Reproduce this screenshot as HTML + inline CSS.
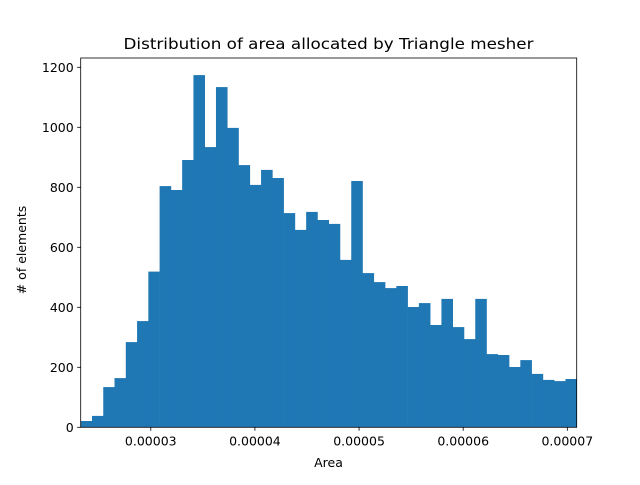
<!DOCTYPE html>
<html><head><meta charset="utf-8"><style>
body{margin:0;background:#fff;}
svg text{font-family:"DejaVu Sans","Liberation Sans",sans-serif;fill:#000;}
</style></head><body>
<svg id="chart" width="640" height="480" xmlns="http://www.w3.org/2000/svg">
<rect width="640" height="480" fill="#fff"/>
<text x="328.5" y="49" font-size="15.5" text-anchor="middle" textLength="410" lengthAdjust="spacingAndGlyphs">Distribution of area allocated by Triangle mesher</text>
<g id="bars"></g>
<g id="axes"></g>
<text x="328.5" y="467" font-size="12.5" text-anchor="middle">Area</text>
<text transform="translate(26,250) rotate(-90)" font-size="12.5" text-anchor="middle">#  of elements</text>
</svg>
<script>
const counts=[21,38,134,164,284,354,519,804,791,891,1174,934,1134,998,874,808,858,831,714,658,718,691,678,558,821,514,484,464,471,401,414,341,428,334,294,428,244,241,201,224,178,158,154,161];
const xTicks=[0.00003,0.00004,0.00005,0.00006,0.00007];
const xTickLabels=["0.00003","0.00004","0.00005","0.00006","0.00007"];
const yTicks=[0,200,400,600,800,1000,1200];
const binStart=0.00002327, binEnd=0.0000709;
const xMin=binStart,xMax=binEnd,yMax=1231;
const L=80.7,R=576.7,T=58,B=427.3;
const NS="http://www.w3.org/2000/svg";
const sx=v=>L+(v-xMin)/(xMax-xMin)*(R-L);
const sy=v=>B-v/yMax*(B-T);
const bars=document.getElementById('bars');
const bw=(binEnd-binStart)/counts.length;
counts.forEach((c,i)=>{
  const r=document.createElementNS(NS,'rect');
  const x0=sx(binStart+i*bw),x1=sx(binStart+(i+1)*bw);
  r.setAttribute('x',x0);r.setAttribute('width',x1-x0+0.3);
  r.setAttribute('y',sy(c));r.setAttribute('height',B-sy(c));
  r.setAttribute('fill','#1f77b4');
  
  
  bars.appendChild(r);
});
const ax=document.getElementById('axes');
const fr=document.createElementNS(NS,'rect');
fr.setAttribute('x',L);fr.setAttribute('y',T);fr.setAttribute('width',R-L);fr.setAttribute('height',B-T);
fr.setAttribute('fill','none');fr.setAttribute('stroke','#000');fr.setAttribute('stroke-width','0.8');


ax.appendChild(fr);
xTicks.forEach((t,i)=>{
  const x=sx(t);
  const l=document.createElementNS(NS,'line');
  l.setAttribute('x1',x);l.setAttribute('x2',x);l.setAttribute('y1',B);l.setAttribute('y2',B+3.5);
  l.setAttribute('stroke','#000');l.setAttribute('stroke-width','0.8');
  
  
  ax.appendChild(l);
  const tx=document.createElementNS(NS,'text');
  tx.setAttribute('x',x);tx.setAttribute('y',B+18);tx.setAttribute('font-size','12.5');tx.setAttribute('text-anchor','middle');
  tx.textContent=xTickLabels[i];
  
  
  ax.appendChild(tx);
});
yTicks.forEach(t=>{
  const y=sy(t);
  const l=document.createElementNS(NS,'line');
  l.setAttribute('x1',L-3.5);l.setAttribute('x2',L);l.setAttribute('y1',y);l.setAttribute('y2',y);
  l.setAttribute('stroke','#000');l.setAttribute('stroke-width','0.8');
  
  
  ax.appendChild(l);
  const tx=document.createElementNS(NS,'text');
  tx.setAttribute('x',L-7);tx.setAttribute('y',y+4.5);tx.setAttribute('font-size','12.5');tx.setAttribute('text-anchor','end');
  tx.textContent=String(t);
  
  
  ax.appendChild(tx);
});
</script>
</body></html>
